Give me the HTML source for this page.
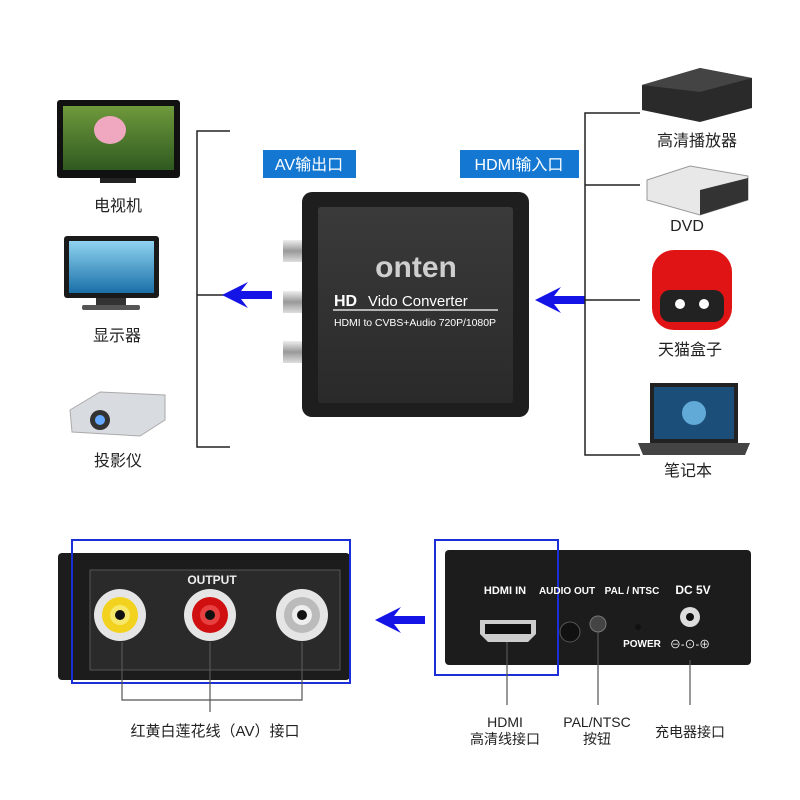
<!DOCTYPE html>
<html><head><meta charset="utf-8"><style>
html,body{margin:0;padding:0;background:#fff;}
svg{display:block;}
text{font-family:"Liberation Sans","Noto Sans CJK SC",sans-serif;}
</style></head><body>
<svg width="800" height="800" viewBox="0 0 800 800" xmlns="http://www.w3.org/2000/svg">
<defs>
<linearGradient id="face" x1="0" y1="0" x2="0" y2="1"><stop offset="0" stop-color="#3a3a3a"/><stop offset="1" stop-color="#2a2a2a"/></linearGradient>
<linearGradient id="lake" x1="0" y1="0" x2="0" y2="1"><stop offset="0" stop-color="#6f9a3c"/><stop offset="1" stop-color="#2f5a20"/></linearGradient>
<linearGradient id="water" x1="0" y1="0" x2="0" y2="1"><stop offset="0" stop-color="#8fd3f0"/><stop offset="1" stop-color="#1a6fa8"/></linearGradient>
<linearGradient id="metal" x1="0" y1="0" x2="0" y2="1"><stop offset="0" stop-color="#eee"/><stop offset="0.5" stop-color="#999"/><stop offset="1" stop-color="#ddd"/></linearGradient>
<path id="arr" d="M0 0 L26 -13 L19 -4 H50 V4 H19 L26 13 Z" fill="#1414e6"/>
</defs>
<rect width="800" height="800" fill="#fff"/>

<!-- TV -->
<rect x="57" y="100" width="123" height="78" rx="3" fill="#111"/>
<rect x="63" y="106" width="111" height="64" fill="url(#lake)"/>
<ellipse cx="110" cy="130" rx="16" ry="14" fill="#f0a8c0"/>
<rect x="100" y="178" width="36" height="5" fill="#222"/>
<text x="118" y="211" font-size="16" text-anchor="middle" fill="#222">电视机</text>
<!-- monitor -->
<rect x="64" y="236" width="95" height="62" rx="3" fill="#1a1a1a"/>
<rect x="69" y="241" width="85" height="52" fill="url(#water)"/>
<rect x="96" y="298" width="30" height="7" fill="#333"/>
<rect x="82" y="305" width="58" height="5" rx="2" fill="#555"/>
<text x="117" y="341" font-size="16" text-anchor="middle" fill="#222">显示器</text>
<!-- projector -->
<path d="M70 410 L100 392 L165 395 L165 420 L140 436 L72 432 Z" fill="#d8dbe0" stroke="#aaa"/>
<circle cx="100" cy="420" r="10" fill="#333"/>
<circle cx="100" cy="420" r="5" fill="#6af"/>
<text x="118" y="466" font-size="16" text-anchor="middle" fill="#222">投影仪</text>

<!-- left bracket -->
<path d="M230 131 H197 V447 H230 M197 295 H225" fill="none" stroke="#222" stroke-width="1.5"/>
<use href="#arr" x="222" y="295"/>

<!-- labels -->
<rect x="263" y="150" width="93" height="28" fill="#1478d2"/>
<text x="309" y="170" font-size="16" text-anchor="middle" fill="#fff">AV输出口</text>
<rect x="460" y="150" width="119" height="28" fill="#1478d2"/>
<text x="519" y="170" font-size="16" text-anchor="middle" fill="#fff">HDMI输入口</text>

<!-- converter -->
<rect x="283" y="240" width="22" height="22" fill="url(#metal)"/>
<rect x="283" y="291" width="22" height="22" fill="url(#metal)"/>
<rect x="283" y="341" width="22" height="22" fill="url(#metal)"/>
<rect x="302" y="192" width="227" height="225" rx="10" fill="#1e1e1e"/>
<rect x="318" y="207" width="195" height="196" rx="3" fill="url(#face)"/>
<text x="416" y="277" font-size="30" font-weight="bold" text-anchor="middle" fill="#cfcfcf">onten</text>
<text x="334" y="306" font-size="16" font-weight="bold" fill="#fff">HD</text>
<text x="368" y="306" font-size="15" fill="#fff">Vido Converter</text>
<line x1="333" y1="310" x2="498" y2="310" stroke="#ddd" stroke-width="1.5"/>
<text x="415" y="326" font-size="10.5" text-anchor="middle" fill="#fff" textLength="162">HDMI to CVBS+Audio 720P/1080P</text>

<!-- right arrow -->
<use href="#arr" x="535" y="300"/>
<!-- right bracket -->
<path d="M640 113 H585 V455 H640 M585 185 H640 M585 300 H640" fill="none" stroke="#222" stroke-width="1.5"/>

<!-- devices right -->
<path d="M642 85 L700 68 L752 78 L752 108 L700 122 L642 110 Z" fill="#2a2a2a"/>
<path d="M642 85 L700 68 L752 78 L700 92 Z" fill="#444"/>
<text x="697" y="146" font-size="16" text-anchor="middle" fill="#222">高清播放器</text>
<path d="M647 180 L690 166 L748 176 L748 200 L700 215 L647 200 Z" fill="#e8e8e8" stroke="#999"/>
<path d="M700 190 L748 178 L748 200 L700 215 Z" fill="#333"/>
<text x="687" y="231" font-size="16" text-anchor="middle" fill="#222">DVD</text>
<rect x="652" y="250" width="80" height="80" rx="22" fill="#e01414"/>
<rect x="660" y="290" width="64" height="32" rx="10" fill="#222"/>
<circle cx="680" cy="304" r="5" fill="#fff"/><circle cx="704" cy="304" r="5" fill="#fff"/>
<text x="690" y="355" font-size="16" text-anchor="middle" fill="#222">天猫盒子</text>
<rect x="650" y="383" width="88" height="60" fill="#222"/>
<rect x="654" y="387" width="80" height="52" fill="#1b4f7a"/>
<circle cx="694" cy="413" r="12" fill="#7fd0ff" opacity="0.7"/>
<path d="M638 443 H750 L745 455 H643 Z" fill="#444"/>
<text x="688" y="476" font-size="16" text-anchor="middle" fill="#222">笔记本</text>

<!-- bottom left device -->
<rect x="58" y="553" width="292" height="127" rx="4" fill="#1c1c1c"/>
<rect x="90" y="570" width="250" height="100" fill="#2a2a2a" stroke="#555"/>
<text x="212" y="584" font-size="12" font-weight="bold" text-anchor="middle" fill="#eee">OUTPUT</text>
<g>
<circle cx="120" cy="615" r="26" fill="#e5e5e5"/><circle cx="120" cy="615" r="18" fill="#f2d21e"/><circle cx="120" cy="615" r="10" fill="#f7e86a"/><circle cx="120" cy="615" r="5" fill="#111"/>
<circle cx="210" cy="615" r="26" fill="#e5e5e5"/><circle cx="210" cy="615" r="18" fill="#d01010"/><circle cx="210" cy="615" r="10" fill="#e84040"/><circle cx="210" cy="615" r="5" fill="#111"/>
<circle cx="302" cy="615" r="26" fill="#e5e5e5"/><circle cx="302" cy="615" r="18" fill="#bbb"/><circle cx="302" cy="615" r="10" fill="#eee"/><circle cx="302" cy="615" r="5" fill="#111"/>
</g>
<rect x="72" y="540" width="278" height="143" fill="none" stroke="#1a2fd8" stroke-width="2"/>
<path d="M122 642 V700 H302 V642 M210 642 V712" fill="none" stroke="#555" stroke-width="1.2"/>
<text x="215" y="736" font-size="15" text-anchor="middle" fill="#222">红黄白莲花线（AV）接口</text>

<!-- middle arrow -->
<use href="#arr" x="375" y="620"/>

<!-- bottom right device -->
<rect x="445" y="550" width="306" height="115" rx="4" fill="#1c1c1c"/>
<rect x="435" y="540" width="123" height="135" fill="none" stroke="#1a2fd8" stroke-width="2"/>
<text x="505" y="594" font-size="11" font-weight="bold" text-anchor="middle" fill="#fff">HDMI IN</text>
<text x="567" y="594" font-size="10" font-weight="bold" text-anchor="middle" fill="#fff">AUDIO OUT</text>
<text x="632" y="594" font-size="10" font-weight="bold" text-anchor="middle" fill="#fff">PAL / NTSC</text>
<text x="693" y="594" font-size="12" font-weight="bold" text-anchor="middle" fill="#fff">DC 5V</text>
<path d="M480 620 H536 V634 L528 642 H488 L480 634 Z" fill="#ccc"/>
<rect x="485" y="624" width="46" height="10" fill="#111"/>
<circle cx="570" cy="632" r="10" fill="#111" stroke="#555"/>
<circle cx="598" cy="624" r="8" fill="#444" stroke="#777"/>
<circle cx="638" cy="627" r="3" fill="#111"/>
<text x="642" y="647" font-size="10" font-weight="bold" text-anchor="middle" fill="#fff">POWER</text>
<circle cx="690" cy="617" r="10" fill="#ddd"/><circle cx="690" cy="617" r="4" fill="#111"/>
<text x="690" y="648" font-size="11" text-anchor="middle" fill="#fff">⊖-⊙-⊕</text>
<path d="M507 642 V705 M598 632 V705 M690 660 V705" fill="none" stroke="#555" stroke-width="1.2"/>
<text x="505" y="727" font-size="14" text-anchor="middle" fill="#222">HDMI</text>
<text x="505" y="744" font-size="14" text-anchor="middle" fill="#222">高清线接口</text>
<text x="597" y="727" font-size="14" text-anchor="middle" fill="#222">PAL/NTSC</text>
<text x="597" y="744" font-size="14" text-anchor="middle" fill="#222">按钮</text>
<text x="690" y="737" font-size="14" text-anchor="middle" fill="#222">充电器接口</text>
</svg>
</body></html>
